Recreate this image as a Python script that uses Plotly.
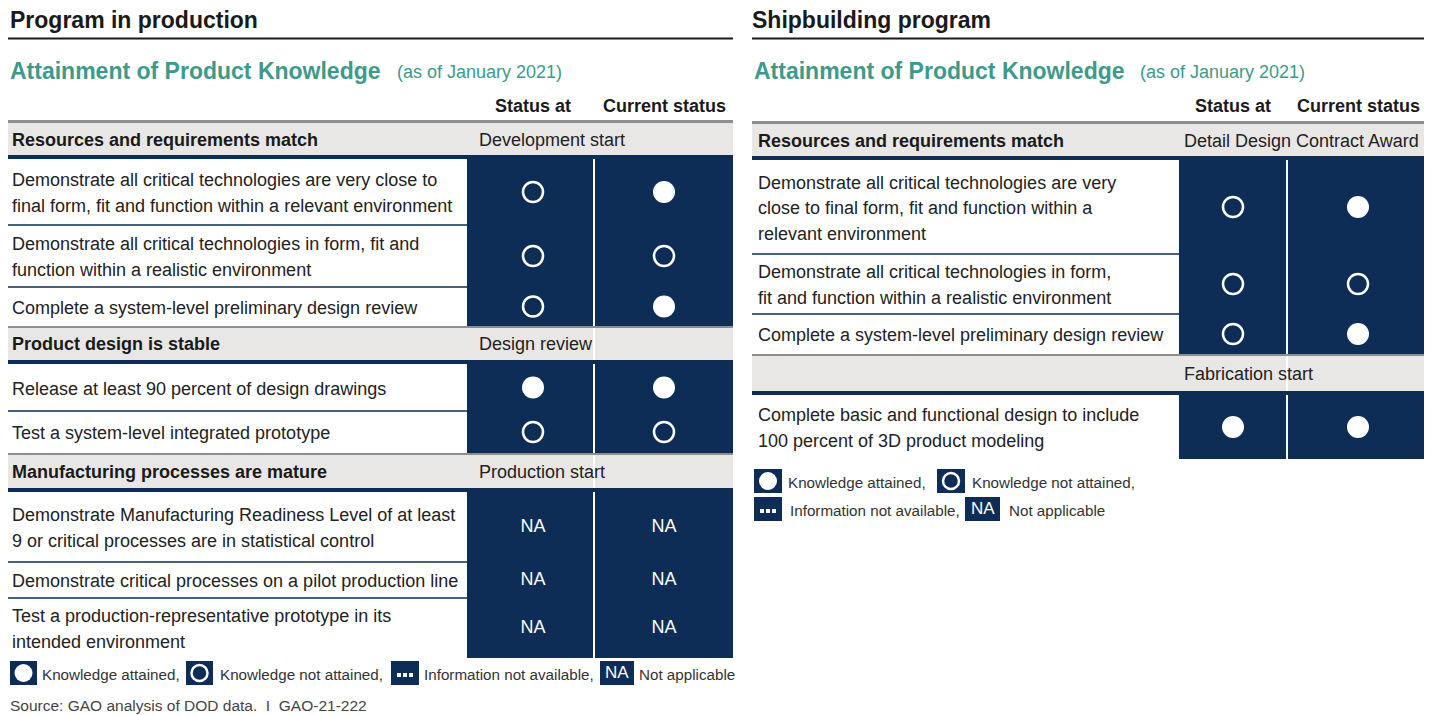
import plotly.graph_objects as go

# ---------------- data ----------------
col_headers = ["Status at", "Current status"]

left_title = "Program in production"
left_sections = ["Resources and requirements match", "Product design is stable", "Manufacturing processes are mature"]
left_stages = ["Development start", "Design review", "Production start"]
left_criteria = [
    "Demonstrate all critical technologies are very close to<br>final form, fit and function within a relevant environment",
    "Demonstrate all critical technologies in form, fit and<br>function within a realistic environment",
    "Complete a system-level preliminary design review",
    "Release at least 90 percent of design drawings",
    "Test a system-level integrated prototype",
    "Demonstrate Manufacturing Readiness Level of at least<br>9 or critical processes are in statistical control",
    "Demonstrate critical processes on a pilot production line",
    "Test a production-representative prototype in its<br>intended environment",
]
left_section_of = [0, 0, 0, 1, 1, 2, 2, 2]
left_status_at = ["not attained", "not attained", "not attained", "attained", "not attained", "NA", "NA", "NA"]
left_current = ["attained", "not attained", "attained", "attained", "not attained", "NA", "NA", "NA"]

right_title = "Shipbuilding program"
right_sections = ["Resources and requirements match", ""]
right_stages = ["Detail Design Contract Award", "Fabrication start"]
right_criteria = [
    "Demonstrate all critical technologies are very<br>close to final form, fit and function within a<br>relevant environment",
    "Demonstrate all critical technologies in form,<br>fit and function within a realistic environment",
    "Complete a system-level preliminary design review",
    "Complete basic and functional design to include<br>100 percent of 3D product modeling",
]
right_section_of = [0, 0, 0, 1]
right_status_at = ["not attained", "not attained", "not attained", "attained"]
right_current = ["attained", "not attained", "attained", "attained"]

subtitle = "Attainment of Product Knowledge"
subtitle_note = "(as of January 2021)"
legend_labels = ["Knowledge attained,", "Knowledge not attained,", "Information not available,", "Not applicable"]
source_text = "Source: GAO analysis of DOD data.  I  GAO-21-222"

# ---------------- styles / layout ----------------
FONT = "Liberation Sans, Arial, sans-serif"
NAVY = "#0d2d57"
TEAL = "#3d9a8a"
GRAYBG = "#e8e7e6"
RULE = "#8e8e8e"
TXT = "#222222"
W, H = 1440, 715
PAGE_MARGIN = 8  # default body margin of the html page
LS = 25.5  # line spacing of body text

LEFT = dict(x0=8, x1=733, tx=10, nav_x0=467, sep_x=594, col_x=[533, 664], stage_x=477,
            top=123, header_h=[32, 34, 35], row_h=[66, 62, 39, 47, 42, 70, 36, 60],
            title_x=8, sub_x=8, note_x=395,
            legend=[dict(box=(10, 37), ty=673, tx=40, kind="attained"),
                    dict(box=(186, 213), ty=673, tx=218, kind="not attained"),
                    dict(box=(391, 419), ty=673, tx=422, kind="dots"),
                    dict(box=(600, 634), ty=673, tx=637, kind="NA")])
RIGHT = dict(x0=752, x1=1424, tx=756, nav_x0=1179, sep_x=1287, col_x=[1233, 1358], stage_x=1182,
             top=124, header_h=[32, 37], row_h=[94, 60, 40, 64],
             title_x=750, sub_x=752, note_x=1138,
             legend=[dict(box=(754, 782), ty=481, tx=786, kind="attained"),
                     dict(box=(937, 965), ty=481, tx=970, kind="not attained"),
                     dict(box=(754, 782), ty=509, tx=788, kind="dots"),
                     dict(box=(965, 1000), ty=509, tx=1007, kind="NA")])

fig = go.Figure()
shapes_bg, shapes_mid, shapes_top = [], [], []
annotations = []


def ann(x, y, text, size=18, color=TXT, bold=False, xanchor="left", yanchor="middle"):
    if bold:
        text = "<b>" + text + "</b>"
    annotations.append(dict(x=x, y=y, xref="x", yref="y", text=text, showarrow=False,
                            xanchor=xanchor, yanchor=yanchor,
                            font=dict(family=FONT, size=size, color=color)))


def rect(lst, x0, y0, x1, y1, color):
    lst.append(dict(type="rect", xref="x", yref="y", x0=x0, y0=y0, x1=x1, y1=y1,
                    fillcolor=color, line=dict(width=0), layer="below"))


def hline(lst, x0, x1, y, color, width):
    lst.append(dict(type="line", xref="x", yref="y", x0=x0, x1=x1, y0=y, y1=y,
                    line=dict(color=color, width=width), layer="below"))


marks = {"attained": ([], []), "not attained": ([], []), "NA": ([], []), "dots": ([], []),
         "attained_leg": ([], []), "not attained_leg": ([], [])}


def panel(P, title, sections, stages, criteria, section_of, status_at, current):
    # titles
    ann(P["title_x"], 20, title, size=23, color="#1a1a1a", bold=True)
    hline(shapes_top, P["x0"], P["x1"], 38.5, "#1a1a1a", 2)
    ann(P["sub_x"], 71, subtitle, size=23, color=TEAL, bold=True)
    ann(P["note_x"], 72, subtitle_note, size=18, color=TEAL)
    for c, lab in zip(P["col_x"], col_headers):
        ann(c, 106, lab, size=18, color="#1a1a1a", bold=True, xanchor="center")
    hline(shapes_top, P["x0"], P["x1"], P["top"] - 1.5, RULE, 3)

    y = P["top"]
    centers = {}
    first_row_top = None
    for s in range(len(sections)):
        h = P["header_h"][s]
        rect(shapes_bg, P["x0"], y, P["x1"], y + h, GRAYBG)
        if s > 0:
            hline(shapes_top, P["x0"], P["x1"], y + 1, RULE, 2)
        if sections[s]:
            ann(P["tx"], y + h / 2 + 1, sections[s], bold=True, color="#1a1a1a")
        ann(P["stage_x"], y + h / 2 + 1, stages[s])
        y += h
        rect(shapes_top, P["x0"], y, P["x1"], y + 4, NAVY)
        y += 4
        if first_row_top is None:
            first_row_top = y
        rows = [i for i in range(len(criteria)) if section_of[i] == s]
        block_top = y
        for k, i in enumerate(rows):
            rh = P["row_h"][i]
            cy = y + rh / 2
            lines = criteria[i].split("<br>")
            n = len(lines)
            for j, line in enumerate(lines):
                ann(P["tx"], cy + (j - (n - 1) / 2) * LS + 1, line)
            if k < len(rows) - 1:
                hline(shapes_top, P["x0"], P["nav_x0"], y + rh, NAVY, 1.5)
            centers[i] = cy
            y += rh
        rect(shapes_bg, P["nav_x0"], block_top - 1, P["x1"], y, NAVY)
    shapes_mid.append(dict(type="line", xref="x", yref="y", x0=P["sep_x"], x1=P["sep_x"],
                           y0=first_row_top, y1=y, line=dict(color="white", width=2), layer="below"))

    for i in range(len(criteria)):
        for c, st in zip(P["col_x"], (status_at[i], current[i])):
            marks[st][0].append(c)
            marks[st][1].append(centers[i])

    # legend
    for item, lab in zip(P["legend"], legend_labels):
        bx0, bx1 = item["box"]
        ty = item["ty"]
        rect(shapes_top, bx0, ty - 12, bx1, ty + 12, NAVY)
        cx = (bx0 + bx1) / 2
        kind = item["kind"]
        if kind == "dots":
            for d in (-6, 0, 6):
                marks["dots"][0].append(cx + d)
                marks["dots"][1].append(ty + 2)
        elif kind == "NA":
            ann(cx, ty - 1, "NA", size=17, color="white", xanchor="center")
        else:
            marks[kind + "_leg"][0].append(cx)
            marks[kind + "_leg"][1].append(ty)
        ann(item["tx"], ty + 1, lab, size=15.2, color="#333333")


panel(LEFT, left_title, left_sections, left_stages, left_criteria, left_section_of, left_status_at, left_current)
panel(RIGHT, right_title, right_sections, right_stages, right_criteria, right_section_of, right_status_at, right_current)

ann(8, 705, source_text, size=15.5, color="#444444")

fig.add_trace(go.Scatter(x=marks["attained"][0], y=marks["attained"][1], mode="markers",
                         marker=dict(symbol="circle", size=22, color="white", line=dict(width=0)),
                         hoverinfo="skip", showlegend=False))
fig.add_trace(go.Scatter(x=marks["not attained"][0], y=marks["not attained"][1], mode="markers",
                         marker=dict(symbol="circle-open", size=20, color="white", line=dict(width=2.5, color="white")),
                         hoverinfo="skip", showlegend=False))
fig.add_trace(go.Scatter(x=marks["NA"][0], y=marks["NA"][1], mode="text", text=["NA"] * len(marks["NA"][0]),
                         textfont=dict(family=FONT, size=18, color="white"), textposition="middle center",
                         hoverinfo="skip", showlegend=False))
fig.add_trace(go.Scatter(x=marks["dots"][0], y=marks["dots"][1], mode="markers",
                         marker=dict(symbol="square", size=4, color="white", line=dict(width=0)),
                         hoverinfo="skip", showlegend=False))
fig.add_trace(go.Scatter(x=marks["attained_leg"][0], y=marks["attained_leg"][1], mode="markers",
                         marker=dict(symbol="circle", size=18, color="white", line=dict(width=0)),
                         hoverinfo="skip", showlegend=False))
fig.add_trace(go.Scatter(x=marks["not attained_leg"][0], y=marks["not attained_leg"][1], mode="markers",
                         marker=dict(symbol="circle-open", size=16, color="white", line=dict(width=2.5, color="white")),
                         hoverinfo="skip", showlegend=False))

# the page body keeps an 8px margin, so the figure is shrunk by it and the axes are shifted
fig.update_layout(
    width=W - PAGE_MARGIN, height=H - PAGE_MARGIN, margin=dict(l=0, r=0, t=0, b=0),
    paper_bgcolor="white", plot_bgcolor="white",
    xaxis=dict(range=[PAGE_MARGIN, W], visible=False, fixedrange=True),
    yaxis=dict(range=[H, PAGE_MARGIN], visible=False, fixedrange=True),
    shapes=shapes_bg + shapes_mid + shapes_top,
    annotations=annotations,
    font=dict(family=FONT),
)

fig.write_html("out.html")
